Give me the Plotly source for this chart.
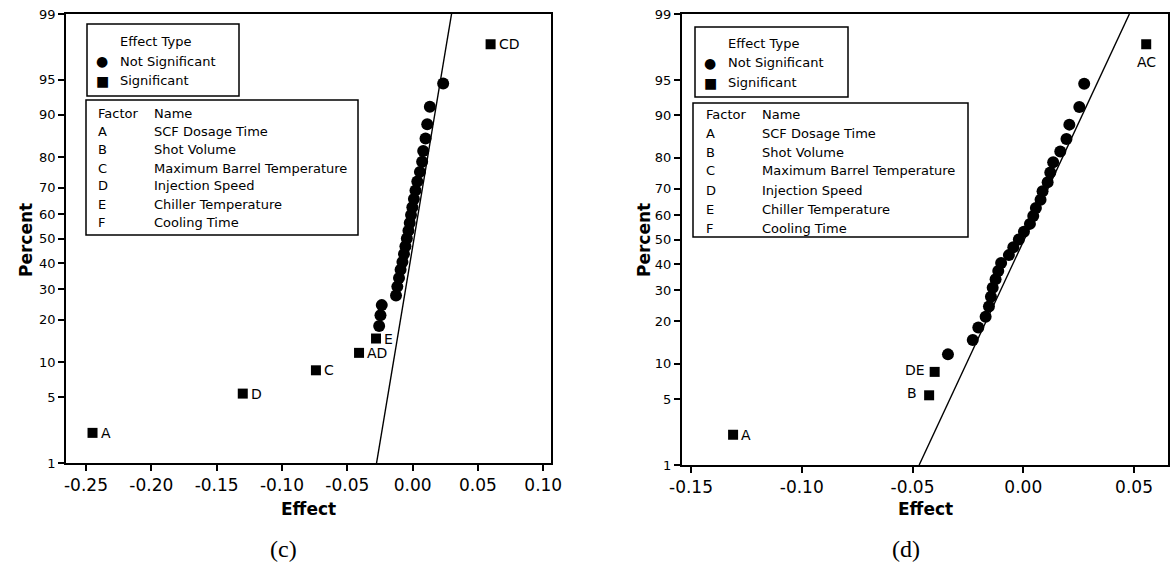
from statistics import NormalDist
import plotly.graph_objects as go

W, H = 1170, 569

# ---------------- data: panel (c) ----------------
c_sig_effect = [-0.245, -0.130, -0.074, -0.041, -0.028, 0.0597]
c_sig_pct = [2.2, 5.4, 8.6, 11.8, 15.0, 97.8]
c_sig_label = ["A", "D", "C", "AD", "E", "CD"]

c_ns_effect = [-0.0256, -0.0246, -0.0236, -0.0127, -0.0117, -0.0104, -0.0092,
               -0.0078, -0.0066, -0.0055, -0.0044, -0.0032, -0.0022, -0.0012,
               -0.0002, 0.0010, 0.0022, 0.0036, 0.0056, 0.0073, 0.0081, 0.0099,
               0.0112, 0.0132, 0.0234]
c_ns_pct = [18.2, 21.3, 24.5, 27.7, 30.9, 34.1, 37.3, 40.4, 43.6, 46.8, 50.0,
            53.2, 56.4, 59.6, 62.7, 65.9, 69.1, 72.3, 75.5, 78.7, 81.8, 85.0,
            88.2, 91.4, 94.6]
c_line_effect = [-0.0276, 0.0298]
c_xticks = [-0.25, -0.20, -0.15, -0.10, -0.05, 0.00, 0.05, 0.10]
c_xticktext = ["-0.25", "-0.20", "-0.15", "-0.10", "-0.05", "0.00", "0.05", "0.10"]

# ---------------- data: panel (d) ----------------
d_sig_effect = [-0.131, -0.0425, -0.0400, 0.0555]
d_sig_pct = [2.2, 5.4, 8.6, 97.8]
d_sig_label = ["A", "B", "DE", "AC"]

d_ns_effect = [-0.0340, -0.0228, -0.0203, -0.0170, -0.0155, -0.0146, -0.0138,
               -0.0125, -0.0113, -0.0100, -0.0065, -0.0045, -0.0020, 0.0003,
               0.0030, 0.0045, 0.0057, 0.0078, 0.0087, 0.0110, 0.0122, 0.0135,
               0.0167, 0.0195, 0.0208, 0.0253, 0.0275]
d_ns_pct = [11.8, 15.0, 18.2, 21.3, 24.5, 27.7, 30.9, 34.1, 37.3, 40.4, 43.6,
            46.8, 50.0, 53.2, 56.4, 59.6, 62.7, 65.9, 69.1, 72.3, 75.5, 78.7,
            81.8, 85.0, 88.2, 91.4, 94.6]
d_line_effect = [-0.0470, 0.0479]
d_xticks = [-0.15, -0.10, -0.05, 0.00, 0.05]
d_xticktext = ["-0.15", "-0.10", "-0.05", "0.00", "0.05"]

line_pct = [1, 99]

pct_ticks = [1, 5, 10, 20, 30, 40, 50, 60, 70, 80, 90, 95, 99]

factor_letters = ["A", "B", "C", "D", "E", "F"]
factor_names = ["SCF Dosage Time", "Shot Volume", "Maximum Barrel Temperature",
                "Injection Speed", "Chiller Temperature", "Cooling Time"]

# ---------------- helpers ----------------
nd = NormalDist()


def probit(p):
    return nd.inv_cdf(p / 100.0)


def px(x):
    return x / W


def py(y):
    return 1 - y / H


FONT = "DejaVu Sans, Verdana, sans-serif"

fig = go.Figure()

panels = [
    dict(xa="x", ya="y", sig_e=c_sig_effect, sig_p=c_sig_pct,
         ns_e=c_ns_effect, ns_p=c_ns_pct, line_e=c_line_effect),
    dict(xa="x2", ya="y2", sig_e=d_sig_effect, sig_p=d_sig_pct,
         ns_e=d_ns_effect, ns_p=d_ns_pct, line_e=d_line_effect),
]

for p in panels:
    fig.add_trace(go.Scatter(
        x=p["line_e"], y=[probit(v) for v in line_pct], mode="lines",
        line=dict(color="black", width=1.4), xaxis=p["xa"], yaxis=p["ya"],
        showlegend=False, hoverinfo="skip"))
    fig.add_trace(go.Scatter(
        x=p["ns_e"], y=[probit(v) for v in p["ns_p"]], mode="markers",
        marker=dict(symbol="circle", size=12, color="black"),
        xaxis=p["xa"], yaxis=p["ya"], showlegend=False))
    fig.add_trace(go.Scatter(
        x=p["sig_e"], y=[probit(v) for v in p["sig_p"]], mode="markers",
        marker=dict(symbol="square", size=10, color="black"),
        xaxis=p["xa"], yaxis=p["ya"], showlegend=False))

annotations = []

# point labels, panel (c): all to the right
for e, pc, lab in zip(c_sig_effect, c_sig_pct, c_sig_label):
    annotations.append(dict(x=e, y=probit(pc), xref="x", yref="y", text=lab,
                            showarrow=False, xanchor="left", xshift=6,
                            font=dict(family=FONT, size=14, color="black")))

# point labels, panel (d)
d_label_pos = {"A": ("left", 6, 0), "B": ("right", -10, 2),
               "DE": ("right", -8, 2), "AC": ("center", 0, -18)}
for e, pc, lab in zip(d_sig_effect, d_sig_pct, d_sig_label):
    anc, xs, ys = d_label_pos[lab]
    annotations.append(dict(x=e, y=probit(pc), xref="x2", yref="y2", text=lab,
                            showarrow=False, xanchor=anc, xshift=xs, yshift=ys,
                            font=dict(family=FONT, size=14, color="black")))

shapes = []


def add_legends(b1, b2, sym_x, txt_x, rows1, fac_x, name_x, rows2):
    # "Effect Type" box
    shapes.append(dict(type="rect", xref="paper", yref="paper",
                       x0=px(b1[0]), x1=px(b1[1]), y0=py(b1[3]), y1=py(b1[2]),
                       line=dict(color="black", width=1.5), fillcolor="white"))
    f = dict(family=FONT, size=13, color="black")
    annotations.append(dict(x=px(txt_x), y=py(rows1[0]), xref="paper", yref="paper",
                            text="Effect Type", showarrow=False, xanchor="left",
                            yanchor="middle", font=f))
    for sym, lab, yy in [("●", "Not Significant", rows1[1]),
                         ("■", "Significant", rows1[2])]:
        annotations.append(dict(x=px(sym_x), y=py(yy), xref="paper", yref="paper",
                                text=sym, showarrow=False, xanchor="center",
                                yanchor="middle",
                                font=dict(family=FONT, size=14, color="black")))
        annotations.append(dict(x=px(txt_x), y=py(yy), xref="paper", yref="paper",
                                text=lab, showarrow=False, xanchor="left",
                                yanchor="middle", font=f))
    # factor table box
    shapes.append(dict(type="rect", xref="paper", yref="paper",
                       x0=px(b2[0]), x1=px(b2[1]), y0=py(b2[3]), y1=py(b2[2]),
                       line=dict(color="black", width=1.5), fillcolor="white"))
    col1 = ["Factor"] + factor_letters
    col2 = ["Name"] + factor_names
    for a, b, yy in zip(col1, col2, rows2):
        annotations.append(dict(x=px(fac_x), y=py(yy), xref="paper", yref="paper",
                                text=a, showarrow=False, xanchor="left",
                                yanchor="middle", font=f))
        annotations.append(dict(x=px(name_x), y=py(yy), xref="paper", yref="paper",
                                text=b, showarrow=False, xanchor="left",
                                yanchor="middle", font=f))


add_legends((87, 239, 24, 96), (86, 358, 100, 235), 102, 118, (41, 61, 81),
            96, 152, (113, 131, 149, 168, 186, 204, 223))
add_legends((695, 848, 27, 97), (693, 968, 103, 237), 710, 726, (43, 63, 83),
            704, 760, (115, 133, 152, 171, 190, 209, 228))

# axis titles and captions
for cx, cap, cap_x in [(308, "(c)", 283), (925, "(d)", 906)]:
    annotations.append(dict(x=px(cx), y=py(509), xref="paper", yref="paper",
                            text="<b>Effect</b>", showarrow=False,
                            xanchor="center", yanchor="middle",
                            font=dict(family=FONT, size=17, color="black")))
    annotations.append(dict(x=px(cap_x), y=py(549), xref="paper", yref="paper",
                            text=cap, showarrow=False, xanchor="center",
                            yanchor="middle",
                            font=dict(family="Liberation Serif, Times New Roman, serif",
                                      size=24, color="black")))
for cx in [26, 644]:
    annotations.append(dict(x=px(cx), y=py(240), xref="paper", yref="paper",
                            text="<b>Percent</b>", showarrow=False, textangle=-90,
                            xanchor="center", yanchor="middle",
                            font=dict(family=FONT, size=17, color="black")))

common_x = dict(showline=True, mirror=True, linecolor="black", linewidth=1.5,
                ticks="outside", ticklen=6, tickwidth=1.5, tickcolor="black",
                showgrid=False, zeroline=False, automargin=False,
                tickfont=dict(family=FONT, size=17, color="black"))
common_y = dict(showline=True, mirror=True, linecolor="black", linewidth=1.5,
                ticks="outside", ticklen=6, tickwidth=1.5, tickcolor="black",
                showgrid=False, zeroline=False, automargin=False,
                tickvals=[probit(v) for v in pct_ticks],
                ticktext=[str(v) for v in pct_ticks],
                range=[probit(1), probit(99)],
                tickfont=dict(family=FONT, size=13, color="black"))

fig.update_layout(
    template="none",
    width=W, height=H, margin=dict(l=0, r=0, t=0, b=0, pad=0),
    paper_bgcolor="white", plot_bgcolor="white", showlegend=False,
    xaxis=dict(domain=[px(66), px(550.7)], range=[-0.2653, 0.1057],
               tickvals=c_xticks, ticktext=c_xticktext,
               anchor="y", **common_x),
    yaxis=dict(domain=[py(463), py(14)], anchor="x", **common_y),
    xaxis2=dict(domain=[px(681.7), px(1167.7)], range=[-0.1542, 0.0652],
                tickvals=d_xticks, ticktext=d_xticktext,
                anchor="y2", **common_x),
    yaxis2=dict(domain=[py(465), py(14)], anchor="x2", **common_y),
    annotations=annotations, shapes=shapes,
)

fig.write_html("out.html")
